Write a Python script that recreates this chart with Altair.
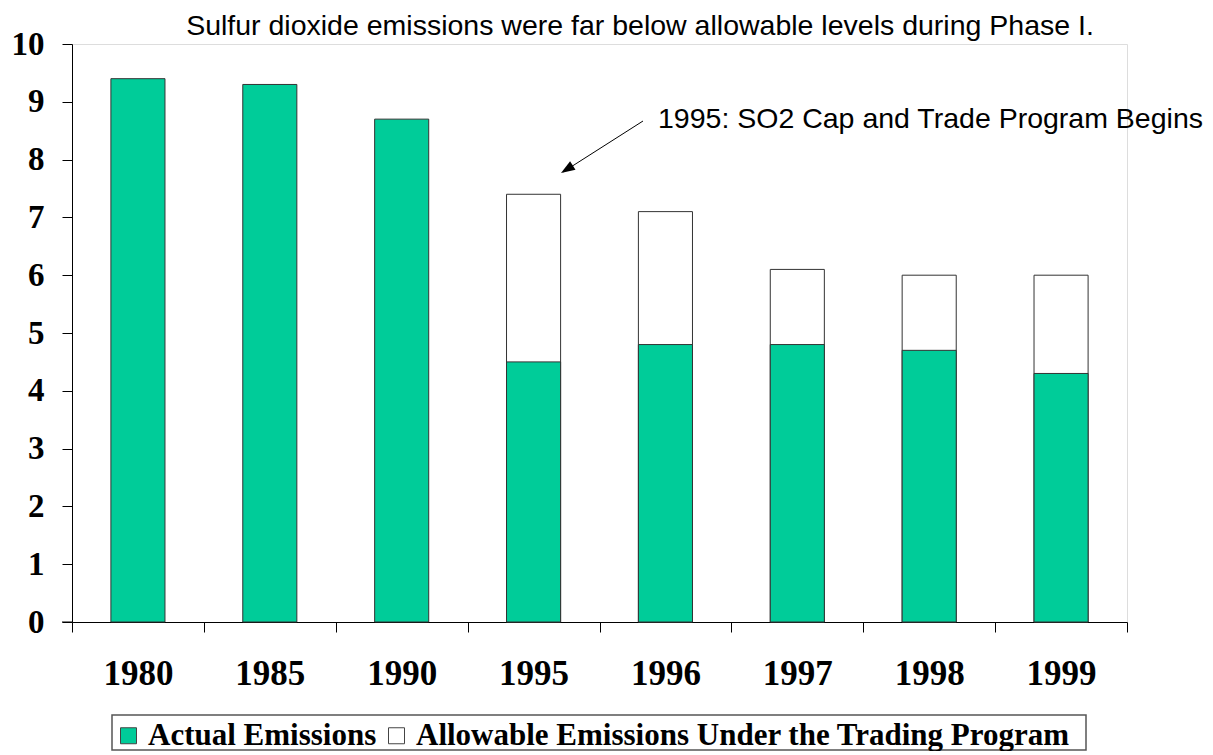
import altair as alt
import pandas as pd

years = ["1980", "1985", "1990", "1995", "1996", "1997", "1998", "1999"]
actual = [9.4, 9.3, 8.7, 4.5, 4.8, 4.8, 4.7, 4.3]
allow_years = ["1995", "1996", "1997", "1998", "1999"]
allowable = [7.4, 7.1, 6.1, 6.0, 6.0]
series = ["Actual Emissions", "Allowable Emissions Under the Trading Program"]
colors = ["#00CC99", "#FFFFFF"]
y_ticks = list(range(0, 11))
title_text = "Sulfur dioxide emissions were far below allowable levels during Phase I."
note_text = "1995: SO2 Cap and Trade Program Begins"

W, H = 1055, 578
SERIF = "Liberation Serif"
SANS = "Liberation Sans"

df_act = pd.DataFrame({"year": years, "value": actual, "series": series[0]})
df_allow = pd.DataFrame({"year": allow_years, "value": allowable, "series": series[1]})

color = alt.Color(
    "series:N",
    scale=alt.Scale(domain=series, range=colors),
    legend=alt.Legend(
        title=None, orient="none", legendX=41, legendY=676,
        direction="horizontal", padding=0, symbolType="square", symbolSize=256,
        symbolStrokeColor="#444444", symbolStrokeWidth=1, symbolOpacity=1,
        labelFont=SERIF, labelFontWeight="bold", labelFontSize=31,
        labelColor="black", labelLimit=2000, columnPadding=4, labelOffset=4,
    ),
)
x = alt.X(
    "year:N", sort=years,
    scale=alt.Scale(domain=years, paddingInner=0, paddingOuter=0),
    axis=alt.Axis(
        title=None, labelAngle=0, labelFont=SERIF, labelFontWeight="bold",
        labelFontSize=35, labelColor="black", tickBand="extent", tickSize=10,
        tickColor="black", domainColor="black", labelPadding=24, grid=False,
    ),
)
y = alt.Y(
    "value:Q",
    scale=alt.Scale(domain=[0, 10], nice=False),
    axis=alt.Axis(
        title=None, values=y_ticks, labelFont=SERIF, labelFontWeight="bold",
        labelFontSize=33, labelColor="black", tickSize=10, tickColor="black",
        domainColor="black", labelPadding=18, grid=False,
    ),
)

bar_style = dict(stroke="#333333", strokeWidth=1, width={"band": 0.41})
allow_bars = alt.Chart(df_allow).mark_bar(**bar_style).encode(x=x, y=y, color=color)
act_bars = alt.Chart(df_act).mark_bar(**bar_style).encode(x=x, y=y, color=color)

one = pd.DataFrame({"a": [0]})
title = alt.Chart(pd.DataFrame({"t": [title_text]})).mark_text(
    font=SANS, fontSize=28.5, color="black", align="center", baseline="middle"
).encode(x=alt.value(568), y=alt.value(-18), text="t:N")
note = alt.Chart(pd.DataFrame({"t": [note_text]})).mark_text(
    font=SANS, fontSize=28.5, color="black", align="left", baseline="middle"
).encode(x=alt.value(586), y=alt.value(75), text="t:N")
arrow_line = alt.Chart(one).mark_rule(color="black", strokeWidth=1).encode(
    x=alt.value(571), y=alt.value(77), x2=alt.value(491), y2=alt.value(128)
)
arrow_head = alt.Chart(one).mark_point(
    shape="M0,0L-1,-0.36L-1,0.36Z", filled=True, color="black",
    size=784, angle=147.5, opacity=1,
).encode(x=alt.value(489), y=alt.value(129))
axis_ext = alt.Chart(one).mark_rule(color="black", strokeWidth=1).encode(
    x=alt.value(-10), x2=alt.value(0), y=alt.value(H)
)
legend_box = alt.Chart(one).mark_rect(
    fill="white", stroke="#555555", strokeWidth=1.5
).encode(x=alt.value(40), x2=alt.value(1014), y=alt.value(671), y2=alt.value(706))

chart = alt.layer(
    legend_box, allow_bars, act_bars, title, note, arrow_line, arrow_head, axis_ext
).properties(
    width=W, height=H,
    autosize=alt.AutoSizeParams(type="none"),
    padding={"left": 64, "top": 36, "right": 78, "bottom": 129},
).configure_view(stroke=None).configure(background="white")

chart.save("out.html", embed_options={"renderer": "svg", "actions": False})
